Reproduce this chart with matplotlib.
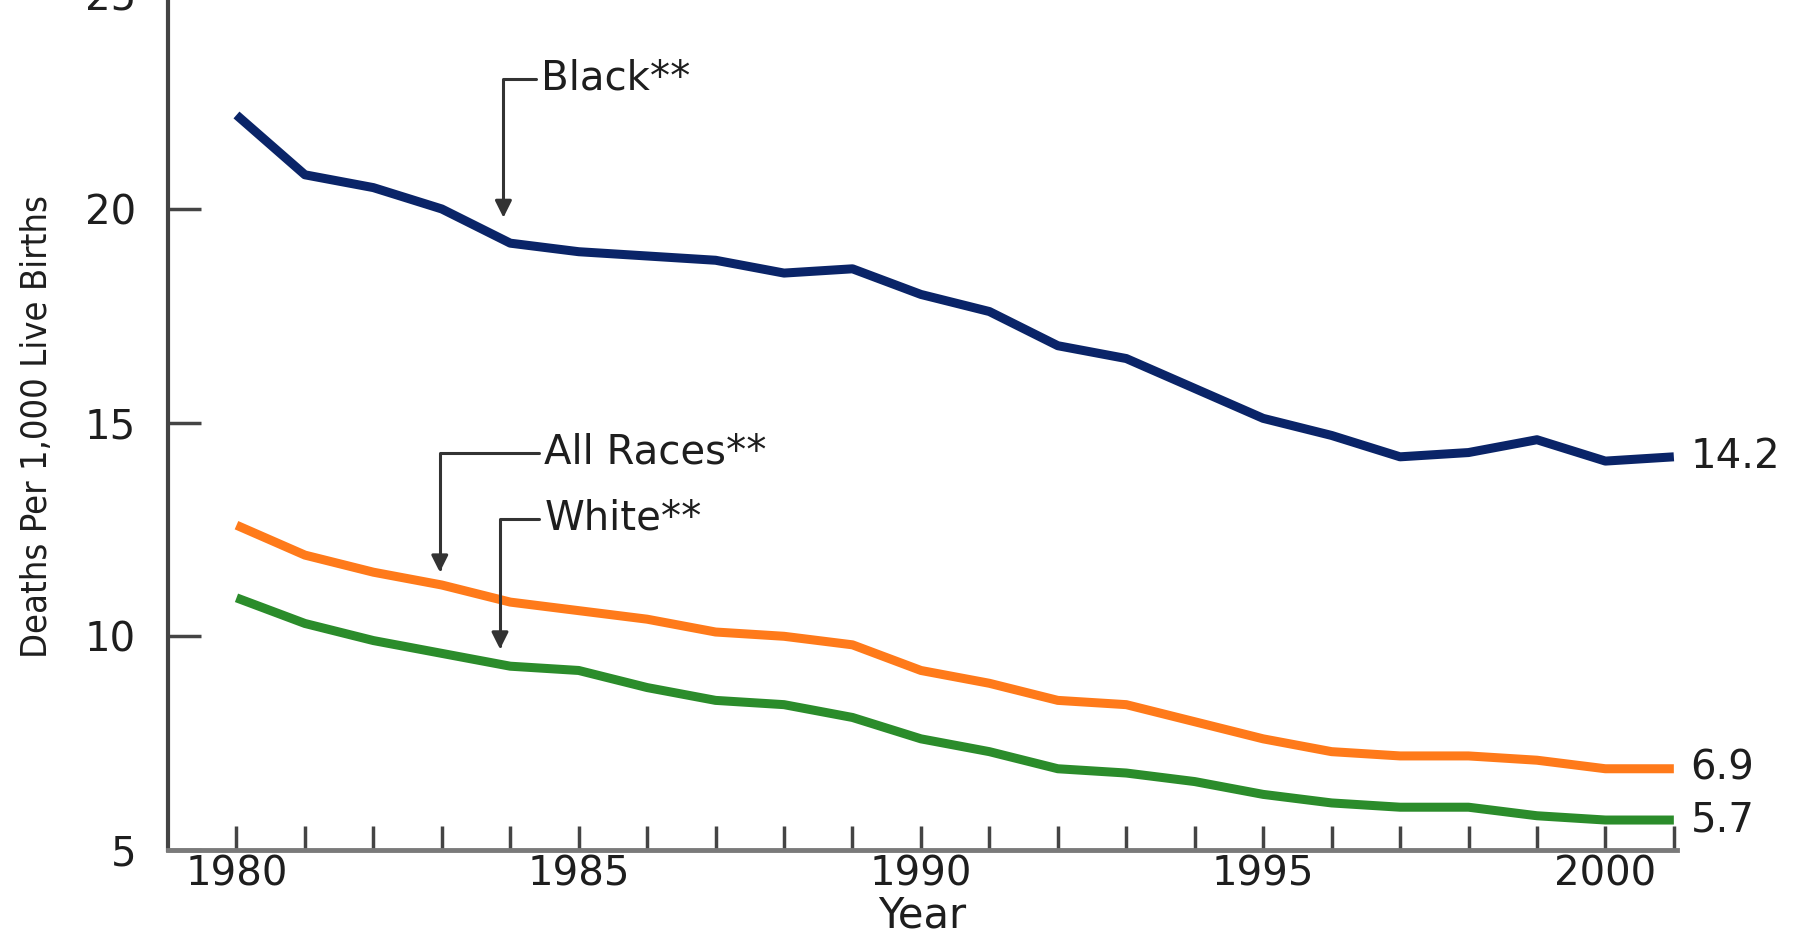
import matplotlib
matplotlib.use("Agg")
import matplotlib.pyplot as plt

# Infant mortality rates, deaths per 1,000 live births
years = list(range(1980, 2002))
black = [22.2, 20.8, 20.5, 20.0, 19.2, 19.0, 18.9, 18.8, 18.5, 18.6, 18.0,
         17.6, 16.8, 16.5, 15.8, 15.1, 14.7, 14.2, 14.3, 14.6, 14.1, 14.2]
all_races = [12.6, 11.9, 11.5, 11.2, 10.8, 10.6, 10.4, 10.1, 10.0, 9.8, 9.2,
             8.9, 8.5, 8.4, 8.0, 7.6, 7.3, 7.2, 7.2, 7.1, 6.9, 6.9]
white = [10.9, 10.3, 9.9, 9.6, 9.3, 9.2, 8.8, 8.5, 8.4, 8.1, 7.6,
         7.3, 6.9, 6.8, 6.6, 6.3, 6.1, 6.0, 6.0, 5.8, 5.7, 5.7]
end_labels = ["14.2", "6.9", "5.7"]

NAVY = "#0a2468"
ORANGE = "#ff7a1a"
GREEN = "#2b8c2b"
TXT = "#1e1e1e"

fig = plt.figure(figsize=(18.01, 9.34), dpi=100)
ax = fig.add_axes([0.0933, 0.090, 0.838, 0.915])

for series, col in [(black, NAVY), (all_races, ORANGE), (white, GREEN)]:
    ax.plot(years, series, color=col, lw=6.5, solid_joinstyle="round",
            solid_capstyle="butt")

ax.set_xlim(1979, 2001.05)
ax.set_ylim(5, 25)

for s in ["top", "right"]:
    ax.spines[s].set_visible(False)
ax.spines["left"].set_color("#444444")
ax.spines["left"].set_linewidth(3)
ax.spines["bottom"].set_color("#7a7a7a")
ax.spines["bottom"].set_linewidth(3.5)

ax.set_xticks([1980, 1985, 1990, 1995, 2000])
ax.set_xticks(years, minor=True)
ax.set_yticks([5, 10, 15, 20, 25])
ax.tick_params(axis="x", which="both", direction="in", length=17, width=2.5,
               color="#444444", pad=3, labelsize=29, labelcolor=TXT)
ax.tick_params(axis="y", direction="in", length=24, width=2.5,
               color="#444444", pad=23, labelsize=29, labelcolor=TXT)

ax.set_ylabel("Deaths Per 1,000 Live Births", fontsize=26, color=TXT,
              family="DejaVu Sans", fontstretch="condensed", va="center")
ax.yaxis.set_label_coords(-0.087, 0.495)
ax.set_xlabel("Year", fontsize=30, color=TXT, va="center")
ax.xaxis.set_label_coords(0.5, -0.077)

# end-of-line values
for series, lab in zip([black, all_races, white], end_labels):
    ax.annotate(lab, xy=(years[-1], series[-1]), xytext=(12, 0),
                textcoords="offset points", va="center", ha="left",
                fontsize=29, color=TXT)

# callouts
arrow = dict(arrowstyle="-|>,head_length=0.5,head_width=0.25",
             connectionstyle="angle,angleA=0,angleB=90,rad=0",
             color="#333333", lw=2.2, mutation_scale=20,
             shrinkA=2, shrinkB=0, relpos=(0, 0.5))
ax.annotate("Black**", xy=(1983.9, 19.8), xytext=(1984.45, 23.05),
            fontsize=29, color=TXT, va="center", ha="left",
            arrowprops=arrow, zorder=5)
ax.annotate("All Races**", xy=(1982.97, 11.5), xytext=(1984.5, 14.3),
            fontsize=29, color=TXT, va="center", ha="left",
            arrowprops=arrow, zorder=5)
ax.annotate("White**", xy=(1983.85, 9.7), xytext=(1984.5, 12.75),
            fontsize=29, color=TXT, va="center", ha="left",
            arrowprops=arrow, zorder=5)

fig.savefig("out.png", dpi=100)
